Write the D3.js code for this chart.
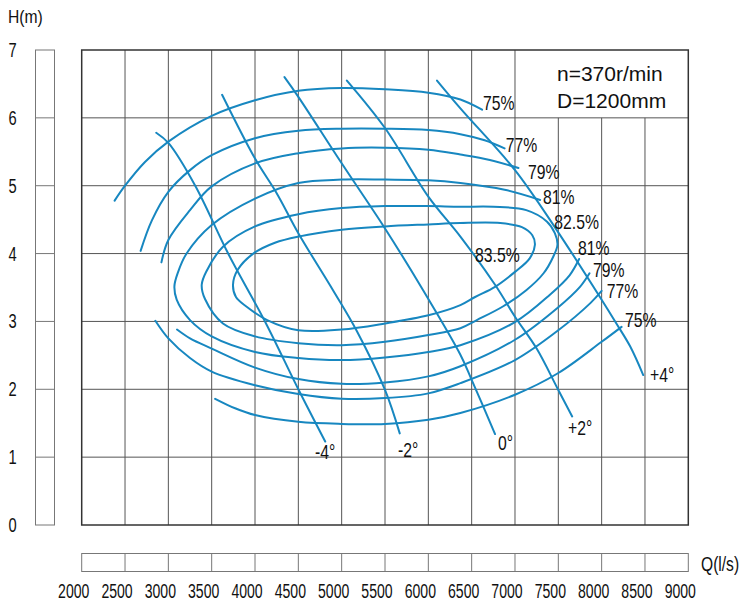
<!DOCTYPE html>
<html><head><meta charset="utf-8">
<script src="https://cdn.jsdelivr.net/npm/d3@7"></script>
<style>
body{margin:0;background:#fff;}
text{font-family:"Liberation Sans",Arial,sans-serif;fill:#111;}
</style>
</head><body>
<svg id="c" width="745" height="607"></svg>
<script>
// ---- data (Q in l/s, H in m) ----
const qTicks = [2000,2500,3000,3500,4000,4500,5000,5500,6000,6500,7000,7500,8000,8500,9000];
const hTicks = [0,1,2,3,4,5,6,7];

const eff75Upper = [[2380,4.78],[2500,5.00],[2730,5.35],[3000,5.65],[3500,6.03],[4000,6.26],[4500,6.40],[5000,6.44],[5500,6.42],[6000,6.37],[6370,6.27],[6620,6.12]];
const eff75Lower = [[3540,1.86],[3770,1.72],[4000,1.62],[4500,1.52],[5000,1.49],[5500,1.49],[6000,1.55],[6370,1.65],[7000,1.92],[7500,2.24],[8000,2.70],[8230,2.92]];
const eff77Upper = [[2680,4.04],[2810,4.49],[3000,4.91],[3250,5.23],[3500,5.45],[4000,5.70],[4500,5.81],[5000,5.84],[5500,5.84],[6000,5.82],[6370,5.76],[6650,5.67],[6880,5.55]];
const eff77Lower = [[2850,3.01],[3000,2.75],[3250,2.46],[3500,2.26],[4000,2.06],[4500,1.93],[5000,1.86],[5500,1.87],[6000,1.94],[6370,2.09],[7000,2.43],[7500,2.87],[7870,3.27],[8000,3.45]];
const eff79Upper = [[2920,3.87],[3000,4.20],[3250,4.64],[3500,4.99],[4000,5.33],[4500,5.48],[5000,5.55],[5500,5.56],[6000,5.53],[6370,5.46],[6710,5.38],[7040,5.26]];
const eff79Lower = [[3100,2.88],[3250,2.75],[3500,2.60],[4000,2.32],[4500,2.15],[5000,2.08],[5500,2.10],[6000,2.19],[6370,2.34],[7000,2.73],[7500,3.21],[7750,3.51],[7860,3.71]];
const eff81 = [[7290,4.79],[6880,4.94],[6370,5.04],[6000,5.08],[5500,5.09],[5000,5.09],[4500,5.04],[4000,4.81],[3500,4.42],[3210,4.00],[3110,3.72],[3070,3.52],[3096,3.32],[3250,3.02],[3500,2.78],[4000,2.55],[4500,2.46],[5000,2.43],[5500,2.47],[6000,2.55],[6370,2.65],[7000,2.99],[7400,3.39],[7630,3.68],[7740,3.92]];
const eff825 = [[3385,3.54],[3440,3.74],[3630,4.10],[4000,4.40],[4500,4.58],[5000,4.67],[5500,4.70],[6000,4.70],[6370,4.69],[6750,4.69],[7130,4.64],[7370,4.47],[7460,4.30],[7490,4.13],[7440,3.95],[7330,3.71],[7130,3.46],[6860,3.22],[6560,3.02],[6370,2.90],[6000,2.80],[5500,2.70],[5000,2.65],[4500,2.68],[4000,2.78],[3630,2.97],[3423,3.33]];
const eff835 = [[3746,3.54],[3800,3.76],[3980,4.00],[4230,4.16],[4500,4.25],[5000,4.35],[5500,4.40],[6000,4.43],[6370,4.45],[6830,4.45],[7080,4.39],[7200,4.27],[7230,4.13],[7170,3.93],[7000,3.73],[6770,3.51],[6540,3.36],[6370,3.24],[6000,3.09],[5500,2.97],[5000,2.88],[4500,2.87],[4140,3.02],[3900,3.22],[3780,3.36]];

const angleM4 = [[2860,5.78],[3000,5.63],[3310,5.00],[3690,4.00],[4115,3.00],[4500,2.00],[4810,1.23]];
const angleM2 = [[3620,6.34],[4000,5.40],[4250,4.89],[4500,4.30],[4900,3.46],[5170,2.87],[5500,1.99],[5670,1.35]];
const angle0  = [[4340,6.60],[4500,6.31],[5000,5.33],[5500,4.37],[5940,3.46],[6370,2.51],[6500,2.14],[6770,1.34]];
const angleP2 = [[5060,6.55],[5500,5.85],[6000,4.84],[6370,4.25],[6770,3.54],[7000,3.07],[7250,2.60],[7500,1.99],[7660,1.60]];
const angleP4 = [[6100,6.55],[6370,6.14],[7000,5.23],[7480,4.35],[7980,3.36],[8170,2.97],[8330,2.63],[8480,2.21]];

const effLabels = [
  ["75%",6631,6.22],["77%",6893,5.60],["79%",7150,5.21],["81%",7323,4.84],["82.5%",7454,4.47],
  ["83.5%",6539,3.98],["81%",7727,4.08],["79%",7900,3.77],["77%",8059,3.46],["75%",8270,3.02]
];
const angleLabels = [["-4°",4692,1.08],["-2°",5650,1.11],["0°",6804,1.21],["+2°",7612,1.43],["+4°",8558,2.21]];
const infoLines = [["n=370r/min",7485,6.54],["D=1200mm",7485,6.15]];
const boxQ = [7000,9000], boxH = [6,7];

// ---- drawing ----
const svg = d3.select("#c");
const x = d3.scaleLinear().domain([2000,9000]).range([81.7,688.3]);
const y = d3.scaleLinear().domain([0,7]).range([525,50]);
const blue = "#1787c0";
const gridCol = "#555";

function ctext(str, px, py, size, sx, anchor, baseline){
  svg.append("text")
    .attr("transform",`translate(${px},${py}) scale(${sx},1)`)
    .attr("text-anchor",anchor).attr("dominant-baseline",baseline)
    .style("font-size",size+"px").text(str);
}

// grid
const g = svg.append("g");
hTicks.filter(h=>h>0&&h<7).forEach(h=>{
  g.append("line").attr("x1",x(2000)).attr("x2",x(9000)).attr("y1",y(h)).attr("y2",y(h))
   .attr("stroke",gridCol).attr("stroke-width",1);
});
qTicks.filter(q=>q>2000&&q<9000).forEach(q=>{
  const top = (q>boxQ[0]) ? y(boxH[0]) : y(7);
  g.append("line").attr("x1",x(q)).attr("x2",x(q)).attr("y1",top).attr("y2",y(0))
   .attr("stroke",gridCol).attr("stroke-width",1);
});
g.append("rect").attr("x",x(2000)).attr("y",y(7)).attr("width",x(9000)-x(2000)).attr("height",y(0)-y(7))
  .attr("fill","none").attr("stroke","#333").attr("stroke-width",1.5);

// left H bar
const lb = svg.append("g");
lb.append("rect").attr("x",35.5).attr("y",y(7)).attr("width",19).attr("height",y(0)-y(7))
  .attr("fill","none").attr("stroke","#777").attr("stroke-width",1);
hTicks.filter(h=>h>0&&h<7).forEach(h=>{
  lb.append("line").attr("x1",35.5).attr("x2",54.5).attr("y1",y(h)).attr("y2",y(h)).attr("stroke","#777");
});
hTicks.forEach(h=> ctext(String(h),12.5,y(h),21,0.7,"middle","central"));
ctext("H(m)",8,17,18,0.87,"start","central");

// bottom Q bar
const bb = svg.append("g");
bb.append("rect").attr("x",x(2000)).attr("y",553.5).attr("width",x(9000)-x(2000)).attr("height",18)
  .attr("fill","none").attr("stroke","#777").attr("stroke-width",1);
qTicks.filter(q=>q>2000&&q<9000).forEach(q=>{
  bb.append("line").attr("x1",x(q)).attr("x2",x(q)).attr("y1",553.5).attr("y2",571.5).attr("stroke","#777");
});
qTicks.forEach(q=> ctext(String(q),x(q)-8,591,21,0.67,"middle","central"));
ctext("Q(l/s)",701,564,20,0.78,"start","central");

// curves
const lineOpen = d3.line().x(d=>x(d[0])).y(d=>y(d[1])).curve(d3.curveCatmullRom.alpha(0.5));
const lineClosed = d3.line().x(d=>x(d[0])).y(d=>y(d[1])).curve(d3.curveCatmullRomClosed.alpha(0.5));
const cg = svg.append("g").attr("fill","none").attr("stroke",blue).attr("stroke-width",2).attr("stroke-linecap","round");
[eff75Upper,eff75Lower,eff77Upper,eff77Lower,eff79Upper,eff79Lower,eff81].forEach(d=>cg.append("path").attr("d",lineOpen(d)));
[eff825,eff835].forEach(d=>cg.append("path").attr("d",lineClosed(d)));
[angleM4,angleM2,angle0,angleP2,angleP4].forEach(d=>cg.append("path").attr("d",lineOpen(d)));

// labels
effLabels.forEach(l=> ctext(l[0],x(l[1]),y(l[2]),21,0.75,"start","central"));
angleLabels.forEach(l=> ctext(l[0],x(l[1]),y(l[2]),21,0.75,"start","central"));
infoLines.forEach(l=> svg.append("text").attr("x",x(l[1])).attr("y",y(l[2]))
  .style("font-size","21px").text(l[0]));
</script>
</body></html>
